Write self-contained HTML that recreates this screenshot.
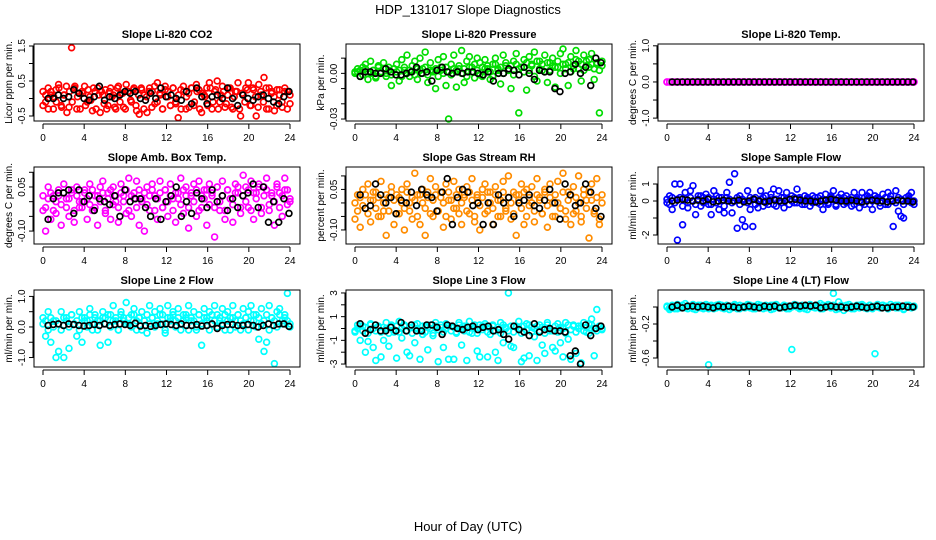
<!DOCTYPE html>
<html><head><meta charset="utf-8">
<style>
body{margin:0;background:#fff;}
svg{display:block;font-family:"Liberation Sans",Arial,sans-serif;}
</style></head>
<body>
<svg id="chart" width="936" height="540" viewBox="0 0 936 540" xmlns="http://www.w3.org/2000/svg">
<text x="468" y="14" text-anchor="middle" font-size="13">HDP_131017  Slope Diagnostics</text>
<text x="468" y="531" text-anchor="middle" font-size="13">Hour of Day (UTC)</text>
</svg>
<script>
const xTicks = [0,4,8,12,16,20,24];

const co2A = [0.2,-0.1,0.3,0.1,-0.3,0.25,0.4,-0.2,0.1,0.35,-0.25,1.45,0.3,-0.3,0.15,0.2,0.35,-0.1,0.05,-0.35,0.2,0.3,-0.4,0.1,0.25,-0.2,0.3,0.1,-0.3,0.35,0.15,-0.25,0.4,0.2,-0.1,0.3,-0.35,-0.45,0.25,0.1,-0.4,0.3,0.2,-0.15,0.45,0.1,-0.3,0.35,0.2,-0.2,0.3,-0.1,-0.55,0.25,0.35,-0.3,0.15,0.3,-0.2,0.4,0.25,-0.4,0.1,0.3,0.45,-0.3,0.2,0.5,-0.1,0.35,-0.25,0.1,0.3,-0.3,0.2,0.45,-0.5,0.1,0.3,0.45,-0.2,0.25,-0.5,0.4,0.1,0.6,-0.3,0.3,0.2,-0.35,0.25,0.1,-0.25,0.3,0.2,-0.15];
const co2B = [-0.2,0.1,-0.3,0.2,0.05,-0.1,0.3,-0.25,0.1,-0.4,0.2,-0.1,0.35,0.05,-0.3,0.15,-0.2,0.25,-0.05,0.3,-0.3,0.1,0.2,-0.15,-0.3,0.2,0.05,-0.25,0.3,-0.1,0.15,-0.3,0.2,-0.05,0.25,-0.2,0.1,0.3,-0.3,0.05,0.2,-0.25,0.35,-0.1,0.15,-0.3,0.25,0.05,-0.2,0.3,-0.15,0.1,-0.3,0.2,0.05,-0.25,0.3,-0.1,0.2,-0.3,0.15,0.05,-0.2,0.3,-0.1,0.25,-0.3,0.1,0.2,-0.15,0.3,-0.25,0.05,0.2,-0.3,0.15,-0.1,0.25,-0.2,0.3,0.05,-0.25,0.2,-0.1,0.3,-0.3,0.15,0.05,-0.2,0.25,-0.1,0.2,-0.3,0.1];
const co2K = [0,0,0.1,0,0.05,0.25,0.15,0,-0.05,0.05,0.35,-0.05,0.05,0,0.1,0.2,0.15,0.2,0,-0.05,0.15,0,0.3,0.05,0.1,0,-0.05,0.2,-0.15,0.3,0.05,-0.15,0.05,0.1,0,0.3,0,-0.2,0.1,0,-0.05,0.05,0.1,0,-0.1,-0.15,0.05,0.2];

const presA = [0.001,0.003,-0.002,0.004,0.006,-0.004,0.008,0.002,-0.003,0.005,0.001,0.007,-0.002,0.004,-0.008,0.003,0.006,-0.005,0.009,0.002,0.012,-0.002,0.005,0.008,-0.004,0.010,0.003,0.014,-0.006,0.007,0.002,-0.010,0.009,0.004,0.011,-0.008,-0.030,0.006,0.012,-0.009,0.003,0.015,-0.006,0.008,0.011,0.004,-0.003,0.010,0.007,-0.002,0.009,0.003,-0.004,0.006,0.010,0.002,-0.007,0.012,0.005,0.002,-0.010,0.008,0.013,-0.026,0.004,0.009,-0.011,0.011,0.006,0.014,-0.005,0.008,0.002,0.012,-0.006,0.007,0.010,-0.009,0.004,0.013,0.016,0.006,-0.008,0.011,0.003,0.015,0.008,-0.005,0.012,0.005,0.009,0.013,-0.004,0.006,-0.026,0.008];
const presB = [0.000,0.001,0.002,-0.001,0.003,0.001,0.000,0.002,-0.002,0.004,0.001,0.003,0.000,0.002,-0.001,0.003,0.001,0.002,-0.002,0.004,0.000,0.002,0.001,-0.001,0.003,0.002,0.000,0.004,-0.001,0.002,0.001,0.003,-0.002,0.002,0.000,0.004,0.001,-0.001,0.003,0.002,0.005,0.000,0.003,-0.002,0.004,0.001,0.006,0.002,-0.001,0.004,0.003,0.005,0.001,-0.002,0.006,0.003,0.004,0.000,0.007,0.002,0.005,-0.001,0.006,0.003,0.004,0.001,0.007,0.002,0.005,-0.002,0.008,0.003,0.006,0.001,0.007,0.002,0.005,0.004,0.008,0.000,0.006,0.003,0.007,0.001,0.005,0.009,0.003,0.006,0.002,0.008,0.004,0.006,0.003,0.007,0.002,0.005];
const presK = [-0.002,0.001,0.001,0,0.000,0.003,0.001,-0.001,-0.001,0,0.001,0.004,0,0.001,-0.005,0.002,0.004,0.001,0,0.001,0,0.001,0.001,0,-0.001,0.001,-0.005,0.000,0.000,0.003,0.002,-0.001,0.004,0.000,-0.004,0.002,0.001,0.001,-0.010,-0.012,0.000,0.001,0.006,0.000,0.004,-0.008,0.010,0.007];

const tempA = [0,0,0,0,0,0,0,0,0,0,0,0,0,0,0,0,0,0,0,0,0,0,0,0,0,0,0,0,0,0,0,0,0,0,0,0,0,0,0,0,0,0,0,0,0,0,0,0,0,0,0,0,0,0,0,0,0,0,0,0,0,0,0,0,0,0,0,0,0,0,0,0,0,0,0,0,0,0,0,0,0,0,0,0,0,0,0,0,0,0,0,0,0,0,0,0];
const tempB = [0,0,0,0,0,0,0,0,0,0,0,0,0,0,0,0,0,0,0,0,0,0,0,0,0,0,0,0,0,0,0,0,0,0,0,0,0,0,0,0,0,0,0,0,0,0,0,0,0,0,0,0,0,0,0,0,0,0,0,0,0,0,0,0,0,0,0,0,0,0,0,0,0,0,0,0,0,0,0,0,0,0,0,0,0,0,0,0,0,0,0,0,0,0,0,0];
const tempK = [0,0,0,0,0,0,0,0,0,0,0,0,0,0,0,0,0,0,0,0,0,0,0,0,0,0,0,0,0,0,0,0,0,0,0,0,0,0,0,0,0,0,0,0,0,0,0,0];

const ambA = [-0.03,-0.1,0.05,-0.06,0.02,-0.04,0.04,-0.08,0.06,0.01,-0.05,0.03,-0.07,0.05,-0.02,0.0,0.04,-0.06,0.06,-0.03,0.02,-0.08,0.05,0.07,-0.04,0.03,-0.06,0.05,0.0,-0.07,0.06,0.02,-0.04,0.08,-0.05,0.03,0.07,-0.08,0.01,-0.1,0.05,-0.03,0.06,0.02,-0.06,0.07,-0.02,0.04,-0.05,0.06,0.01,-0.07,0.03,0.08,-0.04,0.05,-0.09,0.02,0.06,-0.05,0.07,-0.02,0.04,-0.08,0.06,0.02,-0.12,0.05,-0.03,0.07,-0.06,0.04,0.01,-0.07,0.06,0.03,-0.04,0.09,0.05,-0.02,0.07,-0.06,0.03,0.06,-0.04,0.05,0.08,-0.03,0.02,-0.08,0.06,0.03,-0.05,0.08,0.04,0.0];
const ambB = [0.02,-0.02,0.01,0.03,-0.03,0.0,0.02,-0.01,0.03,-0.02,0.01,0.04,-0.03,0.02,0.0,-0.02,0.03,0.01,-0.01,0.04,-0.02,0.02,0.0,0.03,-0.03,0.01,0.04,-0.01,0.02,-0.02,0.03,0.0,0.04,-0.03,0.02,0.01,-0.02,0.04,0.0,0.03,-0.01,0.02,0.04,-0.03,0.01,0.03,-0.02,0.04,0.0,0.02,-0.03,0.03,0.01,-0.01,0.04,0.02,-0.02,0.03,0.0,0.04,-0.03,0.02,0.01,0.04,-0.01,0.03,-0.02,0.05,0.0,0.02,-0.03,0.04,0.01,-0.01,0.03,0.05,-0.02,0.02,0.0,0.04,-0.03,0.03,0.01,0.05,-0.02,0.02,0.04,-0.01,0.03,0.0,0.05,-0.02,0.02,0.04,-0.01,0.01];
const ambK = [-0.06,0.01,0.03,0.03,0.04,-0.04,0.04,0.0,0.02,-0.03,0.01,0.0,-0.01,0.02,-0.05,0.04,0.0,0.01,0.01,-0.02,-0.05,0.01,-0.06,0.0,0.02,0.05,-0.05,0.0,-0.04,0.03,0.01,-0.02,0.04,0.0,0.02,-0.03,0.01,-0.02,0.02,0.03,0.06,-0.02,0.05,-0.07,0.0,-0.07,0.01,-0.04];

const rhA = [-0.06,0.03,-0.09,0.05,-0.02,0.07,-0.07,0.01,0.04,-0.05,0.08,-0.03,-0.12,0.02,0.06,-0.08,0.03,-0.04,0.05,-0.1,0.07,0.0,-0.06,0.11,0.03,-0.08,0.05,-0.12,0.02,0.09,-0.05,0.06,-0.03,0.04,-0.09,0.07,0.01,-0.06,0.08,-0.02,0.05,-0.08,0.03,0.06,-0.04,0.09,-0.07,0.02,-0.1,0.05,0.07,-0.03,0.04,-0.08,0.06,0.01,-0.05,0.08,-0.02,0.1,-0.06,0.04,-0.12,0.03,0.07,-0.08,0.05,-0.01,0.06,-0.07,0.09,0.02,-0.04,0.05,-0.09,0.07,0.0,-0.05,0.08,-0.02,0.11,-0.06,0.04,-0.08,0.06,-0.03,0.1,-0.07,0.05,0.01,-0.13,0.07,-0.04,0.09,-0.08,0.03];
const rhB = [0.0,-0.03,0.02,-0.01,0.03,-0.04,0.01,0.04,-0.02,0.02,-0.05,0.0,0.03,-0.03,0.04,0.01,-0.04,0.02,0.0,-0.02,0.04,-0.03,0.02,0.01,-0.05,0.03,0.0,-0.02,0.04,-0.04,0.01,0.03,-0.03,0.02,0.0,-0.05,0.04,0.01,-0.02,0.03,-0.04,0.0,0.02,-0.03,0.04,0.01,-0.05,0.03,-0.01,0.02,-0.04,0.04,0.0,-0.02,0.03,-0.05,0.01,0.04,-0.03,0.02,0.0,-0.04,0.03,0.01,-0.02,0.04,-0.05,0.02,0.0,-0.03,0.03,0.01,-0.04,0.04,-0.01,0.02,-0.05,0.03,0.0,-0.02,0.04,-0.03,0.01,0.03,-0.04,0.02,0.0,-0.05,0.03,-0.02,0.04,0.01,-0.03,0.02,-0.06,0.0];
const rhK = [0.03,-0.02,-0.01,0.07,0.03,0.0,0.02,-0.04,0.01,0.0,0.04,-0.01,0.05,0.03,0.02,-0.03,0.04,0.09,-0.08,0.02,0.05,0.04,-0.01,0.0,-0.08,0.0,-0.08,0.03,0.0,0.02,-0.05,0.0,0.01,0.03,-0.01,-0.02,0.01,0.05,0.0,-0.06,0.07,0.03,-0.01,0.0,0.07,0.04,-0.02,-0.05];

const sfA = [-0.1,0.3,-0.5,1.0,-2.3,1.0,-1.4,0.5,-0.4,0.6,0.9,-0.8,0.3,-0.3,0.2,0.4,-0.2,-0.8,0.6,0.3,-0.5,0.2,-0.7,0.5,1.1,-0.7,1.6,-1.6,0.3,-1.1,-1.5,0.6,-0.5,-1.5,0.2,-0.4,0.6,-0.3,0.3,-0.2,0.4,0.7,-0.3,0.6,0.2,-0.4,0.5,-0.2,0.3,-0.1,0.7,0.2,-0.2,0.3,0.1,-0.3,0.3,0.2,-0.1,0.3,-0.5,0.4,-0.2,0.3,0.6,-0.3,0.2,0.4,-0.2,0.3,0.1,-0.3,0.5,0.2,-0.4,0.5,-0.2,0.3,0.5,-0.5,0.3,0.1,-0.3,0.4,-0.2,0.5,0.3,-1.5,0.6,-0.6,-0.9,-1.0,0.2,0.3,0.5,-0.2];
const sfB = [0.1,-0.2,0.2,-0.1,0.1,0.2,-0.3,0.1,-0.1,0.2,0.0,-0.2,0.1,0.3,-0.1,0.0,0.2,-0.2,0.1,-0.1,0.2,0.0,-0.3,0.2,0.1,-0.1,0.0,0.2,-0.2,0.1,0.0,-0.1,0.2,0.1,-0.2,0.0,0.1,0.2,-0.1,0.0,0.2,-0.2,0.1,0.0,-0.1,0.2,0.1,-0.2,0.0,0.2,-0.1,0.1,0.0,-0.2,0.2,0.1,-0.1,0.0,0.2,-0.2,0.1,0.0,-0.1,0.2,0.1,-0.2,0.0,0.1,0.2,-0.1,0.0,0.2,-0.2,0.1,0.0,-0.1,0.2,0.1,-0.2,0.0,0.1,0.2,-0.1,0.0,0.2,-0.2,0.1,0.0,-0.1,0.2,0.1,-0.2,0.0,0.1,-0.1,0.0];
const sfK = [0,0.05,0.1,0.05,0,0.05,0,0.1,-0.05,0,0.05,0,0,0.05,-0.05,0,0.1,0,-0.05,0,0.05,0,0,0.1,0.1,0.05,0,0,-0.05,0,0.05,0.1,0.05,0,0,0.05,0,-0.05,0,0.05,0,0,-0.05,0,0.05,0,0,-0.05];

const l2A = [0.3,-0.3,0.5,-0.5,0.2,-1.0,-0.8,0.5,-1.0,0.3,-0.7,0.4,0.1,-0.3,0.5,-0.5,0.3,0.2,0.6,-0.1,0.4,0.2,-0.6,0.5,0.3,-0.5,0.4,0.7,0.2,-0.1,0.5,0.3,0.8,0.1,0.4,0.6,-0.1,0.3,0.5,0.2,-0.2,0.7,0.3,0.5,0.1,0.6,0.4,-0.2,0.7,0.3,0.5,0.2,0.6,-0.1,0.4,0.3,0.7,0.2,0.5,-0.1,0.4,-0.6,0.6,0.3,0.5,0.1,0.7,0.4,0.2,0.6,-0.1,0.5,0.3,0.7,0.2,0.4,-0.1,0.6,0.3,0.5,0.7,0.2,0.4,-0.4,0.6,-0.8,-0.5,0.7,0.3,-1.2,0.5,0.6,0.2,0.4,1.1,0.0];
const l2B = [0.1,0.2,-0.1,0.3,0.0,0.2,0.1,-0.1,0.3,0.2,0.0,0.4,0.1,0.2,-0.1,0.3,0.2,0.0,0.4,0.1,0.3,-0.1,0.2,0.3,0.1,0.4,0.0,0.2,0.3,-0.1,0.4,0.2,0.1,0.3,0.0,0.4,0.2,0.3,-0.1,0.2,0.4,0.1,0.3,0.0,0.2,0.4,0.1,-0.1,0.3,0.2,0.4,0.0,0.3,0.1,0.2,0.4,-0.1,0.3,0.2,0.0,0.4,0.1,0.3,0.2,-0.1,0.4,0.2,0.0,0.3,0.1,0.4,0.2,-0.1,0.3,0.0,0.4,0.2,0.1,0.3,-0.1,0.2,0.4,0.0,0.3,0.1,0.2,0.4,-0.1,0.3,0.2,0.0,0.4,0.1,0.3,0.2,0.1];
const l2K = [0.05,0.08,0.1,0.05,0.1,0.08,0.05,0.03,0.05,0.08,0.05,0.1,0.05,0.08,0.1,0.08,0.05,0.12,0.03,0.05,0.02,0.05,0.08,0.1,0.08,0.05,0.1,0.05,0.05,0.08,0.03,0.05,0.1,-0.05,0.05,0.08,0.08,0.05,0.05,0.08,0.05,0.0,0.05,0.1,0.05,0.1,0.1,0.02];

const l3A = [-0.2,0.3,-1.0,0.2,-2.0,-1.1,0.4,-1.6,-2.7,0.1,-2.4,-1.0,0.5,-1.5,0.2,-0.3,-2.5,0.6,-0.8,0.3,-2.0,-2.3,0.1,-1.2,0.4,-2.6,-0.5,0.2,-1.8,0.3,-0.6,0.5,-2.8,0.1,-1.6,0.4,-2.6,0.2,-2.6,-0.3,0.5,-1.4,0.2,-2.7,0.6,-0.4,0.3,-1.9,-2.4,0.2,0.4,-2.4,-0.5,0.3,-2.0,-2.7,0.5,-1.2,0.1,3.0,-1.5,-1.6,0.2,0.6,-2.8,-2.5,0.4,-2.3,0.1,-0.7,-2.7,0.3,-1.4,-2.1,0.5,-0.2,-1.6,-1.9,0.4,-1.2,-2.4,0.5,-0.9,-2.6,0.3,-2.1,0.2,-2.9,0.5,-0.3,0.4,0.8,-2.3,1.6,0.2,0.0];
const l3B = [-0.3,0.0,0.2,-0.2,0.1,-0.4,0.3,0.0,-0.2,0.2,-0.3,0.1,0.0,-0.4,0.3,-0.1,0.2,-0.3,0.0,0.2,-0.2,0.1,-0.4,0.3,0.0,-0.2,0.2,-0.3,0.1,0.0,-0.4,0.2,-0.1,0.3,-0.3,0.0,0.2,-0.2,0.1,-0.4,0.3,0.0,-0.2,0.2,-0.3,0.1,0.0,-0.4,0.3,-0.1,0.2,-0.3,0.0,0.2,-0.2,0.1,-0.4,0.3,0.0,-0.2,0.2,-0.3,0.1,0.0,-0.4,0.2,-0.1,0.3,-0.3,0.0,0.2,-0.2,0.1,-0.4,0.3,0.0,-0.2,0.2,-0.3,0.1,0.0,-0.4,0.3,-0.1,0.2,-0.3,0.0,0.2,-0.2,0.1,-0.4,0.3,0.0,-0.2,0.2,-0.1];
const l3K = [0.4,-0.4,-0.1,0.3,-0.2,-0.2,0.1,-0.2,0.5,-0.2,0.3,-0.2,-0.2,0.3,0.3,0.1,-0.5,0.3,0.2,0.0,-0.1,0.1,0.2,-0.1,0.1,0.2,-0.2,-0.1,-0.5,-0.9,0.2,-0.1,-0.3,-0.6,0.4,-0.3,-0.1,0.0,-0.2,-0.2,-0.3,-2.3,-1.9,-3.0,0.3,-0.6,0.0,0.2];

const l4A = [0.0,-0.03,0.02,-0.02,0.03,-0.01,0.02,0.04,-0.02,0.01,0.03,-0.03,0.0,0.02,-0.02,0.03,-0.68,0.01,-0.02,0.02,0.03,-0.01,0.0,0.02,-0.03,0.01,0.03,-0.02,0.02,0.0,-0.01,0.03,0.02,-0.02,0.01,0.03,0.0,-0.02,0.02,0.01,-0.03,0.02,0.03,-0.01,0.0,0.02,-0.02,0.01,-0.5,0.03,0.0,-0.02,0.02,0.01,-0.03,0.03,0.0,-0.01,0.02,0.04,-0.02,0.01,0.03,0.0,0.16,-0.03,0.06,0.02,-0.04,0.01,0.03,-0.02,0.0,0.02,-0.01,0.03,0.01,-0.02,0.02,0.0,-0.55,0.03,-0.01,0.02,0.0,-0.02,0.03,0.01,-0.01,0.02,0.0,-0.03,0.02,0.01,-0.01,0.0];
const l4B = [0.01,-0.01,0.0,0.01,-0.02,0.0,0.02,-0.01,0.01,0.0,-0.02,0.01,0.02,-0.01,0.0,0.01,-0.02,0.02,0.0,-0.01,0.01,0.02,-0.02,0.0,0.01,-0.01,0.02,0.0,-0.02,0.01,0.0,0.02,-0.01,0.01,-0.02,0.0,0.02,0.01,-0.01,0.0,0.02,-0.02,0.01,0.0,-0.01,0.02,0.01,-0.02,0.0,0.01,0.02,-0.01,0.0,-0.02,0.01,0.02,0.0,-0.01,0.01,-0.02,0.02,0.0,0.01,-0.01,0.02,0.0,-0.02,0.01,0.0,0.02,-0.01,0.01,-0.02,0.0,0.02,0.01,-0.01,0.0,0.02,-0.02,0.01,0.0,-0.01,0.02,0.01,-0.02,0.0,0.01,0.02,-0.01,0.0,-0.02,0.01,0.02,0.0,0.01];
const l4K = [0.0,0.02,-0.01,0.01,0.01,0.0,0.01,0.0,-0.01,0.01,0.0,0.01,0.0,-0.01,0.0,0.01,0.0,-0.01,0.01,0.0,0.01,-0.01,0.0,0.01,0.02,0.01,0.02,0.01,0.02,-0.01,0.0,0.01,0.0,0.0,-0.01,0.0,0.01,0.0,-0.01,0.0,0.01,-0.01,-0.01,0.0,0.0,0.01,0.0,0.0];

const panels = [
 {key:'co2',title:'Slope Li-820 CO2',ylab:'Licor ppm per min.',col:'#ff0000',a:co2A,b:co2B,k:co2K,ymin:-0.643,ymax:1.557,ticks:[-0.5,0,0.5,1,1.5],labels:['-0.5','','0.5','','1.5']},
 {key:'pressure',title:'Slope Li-820 Pressure',ylab:'kPa per min.',col:'#00dd00',a:presA,b:presB,k:presK,ymin:-0.0313,ymax:0.0193,ticks:[-0.03,-0.02,-0.01,0,0.01],labels:['-0.03','','','0.00','']},
 {key:'temp',title:'Slope Li-820 Temp.',ylab:'degrees C per min.',col:'#ff00ff',a:tempA,b:tempB,k:tempK,ymin:-1.08,ymax:1.05,ticks:[-1,-0.5,0,0.5,1],labels:['-1.0','','0.0','','1.0']},
 {key:'amb-box-temp',title:'Slope Amb. Box Temp.',ylab:'degrees C per min.',col:'#ff00ff',a:ambA,b:ambB,k:ambK,ymin:-0.144,ymax:0.118,ticks:[-0.1,-0.05,0,0.05,0.1],labels:['-0.10','','','0.05','']},
 {key:'gas-rh',title:'Slope Gas Stream RH',ylab:'percent per min.',col:'#ff8c00',a:rhA,b:rhB,k:rhK,ymin:-0.152,ymax:0.133,ticks:[-0.1,-0.05,0,0.05,0.1],labels:['-0.10','','','0.05','']},
 {key:'sample-flow',title:'Slope Sample Flow',ylab:'ml/min per min.',col:'#0000ff',a:sfA,b:sfB,k:sfK,ymin:-2.53,ymax:2.0,ticks:[-2,-1,0,1],labels:['-2','','0','1']},
 {key:'line2-flow',title:'Slope Line 2 Flow',ylab:'ml/min per min.',col:'#00ffff',a:l2A,b:l2B,k:l2K,ymin:-1.31,ymax:1.21,ticks:[-1,-0.5,0,0.5,1],labels:['-1.0','','0.0','','1.0']},
 {key:'line3-flow',title:'Slope Line 3 Flow',ylab:'ml/min per min.',col:'#00ffff',a:l3A,b:l3B,k:l3K,ymin:-3.25,ymax:3.25,ticks:[-3,-2,-1,0,1,2,3],labels:['-3','','-1','','1','','3']},
 {key:'line4-flow',title:'Slope Line 4 (LT) Flow',ylab:'ml/min per min.',col:'#00ffff',a:l4A,b:l4B,k:l4K,ymin:-0.706,ymax:0.2,ticks:[-0.6,-0.4,-0.2,0],labels:['-0.6','','-0.2','']}
];

const NS='http://www.w3.org/2000/svg';
const svg=document.getElementById('chart');
function mk(tag,attrs,parent){const e=document.createElementNS(NS,tag);for(const k in attrs)e.setAttribute(k,attrs[k]);(parent||svg).appendChild(e);return e;}

panels.forEach((p,idx)=>{
  const col=idx%3,row=Math.floor(idx/3);
  const bx=34+col*312,by=44+row*123,bw=266,bh=77;
  const g=mk('g',{});
  
  
  const xs=h=>bx+9+h*(247/24);
  const ys=v=>by+bh-(v-p.ymin)/(p.ymax-p.ymin)*bh;
  const t=mk('text',{x:bx+bw/2,y:by-6,'text-anchor':'middle','font-size':11,'font-weight':'bold'},g);
  t.textContent=p.title;
  
  
  const pg=mk('g',{fill:'none','stroke-width':1.7},g);
  
  
  [p.a,p.b].forEach(arr=>{
    arr.forEach((v,i)=>{
      const h=i*24/(arr.length-1);
      const c=mk('circle',{cx:xs(h),cy:ys(v),r:2.9,stroke:p.col},pg);
      
      
    });
  });
  p.k.forEach((v,i)=>{
    const h=0.5+i*23.4/(p.k.length-1);
    const c=mk('circle',{cx:xs(h),cy:ys(v),r:2.9,stroke:'#000'},pg);
    
    
  });
  const r=mk('rect',{x:bx,y:by,width:bw,height:bh,fill:'none',stroke:'#000','stroke-width':1},g);
  
  
  const xa=mk('g',{},g);
  
  
  mk('line',{x1:xs(0),x2:xs(24),y1:by+bh+3,y2:by+bh+3,stroke:'#000'},xa);
  xTicks.forEach(h=>{
    mk('line',{x1:xs(h),x2:xs(h),y1:by+bh+3,y2:by+bh+8,stroke:'#000'},xa);
    const tl=mk('text',{x:xs(h),y:by+bh+20,'text-anchor':'middle','font-size':10},xa);
    tl.textContent=h;
    
    
  });
  const ya=mk('g',{},g);
  
  
  const t0=p.ticks[0],t1=p.ticks[p.ticks.length-1];
  mk('line',{x1:bx-1,x2:bx-1,y1:ys(t0),y2:ys(t1),stroke:'#000'},ya);
  p.ticks.forEach((v,i)=>{
    mk('line',{x1:bx-5,x2:bx,y1:ys(v),y2:ys(v),stroke:'#000'},ya);
    if(p.labels[i]){
      const yl=mk('text',{x:0,y:0,'text-anchor':'middle','font-size':10,transform:`translate(${bx-9},${ys(v)}) rotate(-90)`},ya);
      yl.textContent=p.labels[i];
      
      
    }
  });
  const yt=mk('text',{x:0,y:0,'text-anchor':'middle','font-size':10,transform:`translate(${bx-22},${by+bh/2}) rotate(-90)`},g);
  yt.textContent=p.ylab;
  
  
});
</script>
</body></html>
